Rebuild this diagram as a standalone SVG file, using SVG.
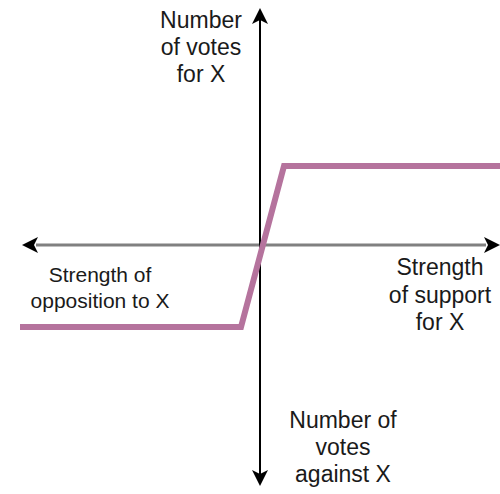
<svg xmlns="http://www.w3.org/2000/svg" width="500" height="494" viewBox="0 0 500 494">
<style>
text{font-family:"Liberation Sans",Arial,sans-serif;fill:#1a1a1a;text-anchor:middle}
.big{font-size:23px}
.small{font-size:21px}
</style>
<rect width="500" height="494" fill="#ffffff"/>
<g id="connectors">
<line x1="36" y1="245" x2="486" y2="245" stroke="#808080" stroke-width="3"/>
<polygon points="22,245 38,237 34,245 38,253" fill="#000"/>
<polygon points="500,245 484,237 488,245 484,253" fill="#000"/>
<line x1="260" y1="20" x2="260" y2="474" stroke="#000" stroke-width="2"/>
<polygon points="260,8 252,24 260,20 268,24" fill="#000"/>
<polygon points="260,486 252,470 260,474 268,470" fill="#000"/>
</g>
<g id="curve">
<polyline points="20,327 241,327 284,166 500,166" fill="none" stroke="#b5739d" stroke-width="6"/>
</g>
<g id="label-for">
<text class="big" x="201" y="28">Number</text>
<text class="big" x="201" y="55">of votes</text>
<text class="big" x="201" y="82">for X</text>
</g>
<g id="label-against">
<text class="big" x="343" y="428">Number of</text>
<text class="big" x="343" y="455">votes</text>
<text class="big" x="343" y="482">against X</text>
</g>
<g id="label-opposition">
<text class="small" x="100" y="282">Strength of</text>
<text class="small" x="100" y="308">opposition to X</text>
</g>
<g id="label-support">
<text class="big" x="440" y="275">Strength</text>
<text class="big" x="440" y="303">of support</text>
<text class="big" x="440" y="330">for X</text>
</g>
</svg>
